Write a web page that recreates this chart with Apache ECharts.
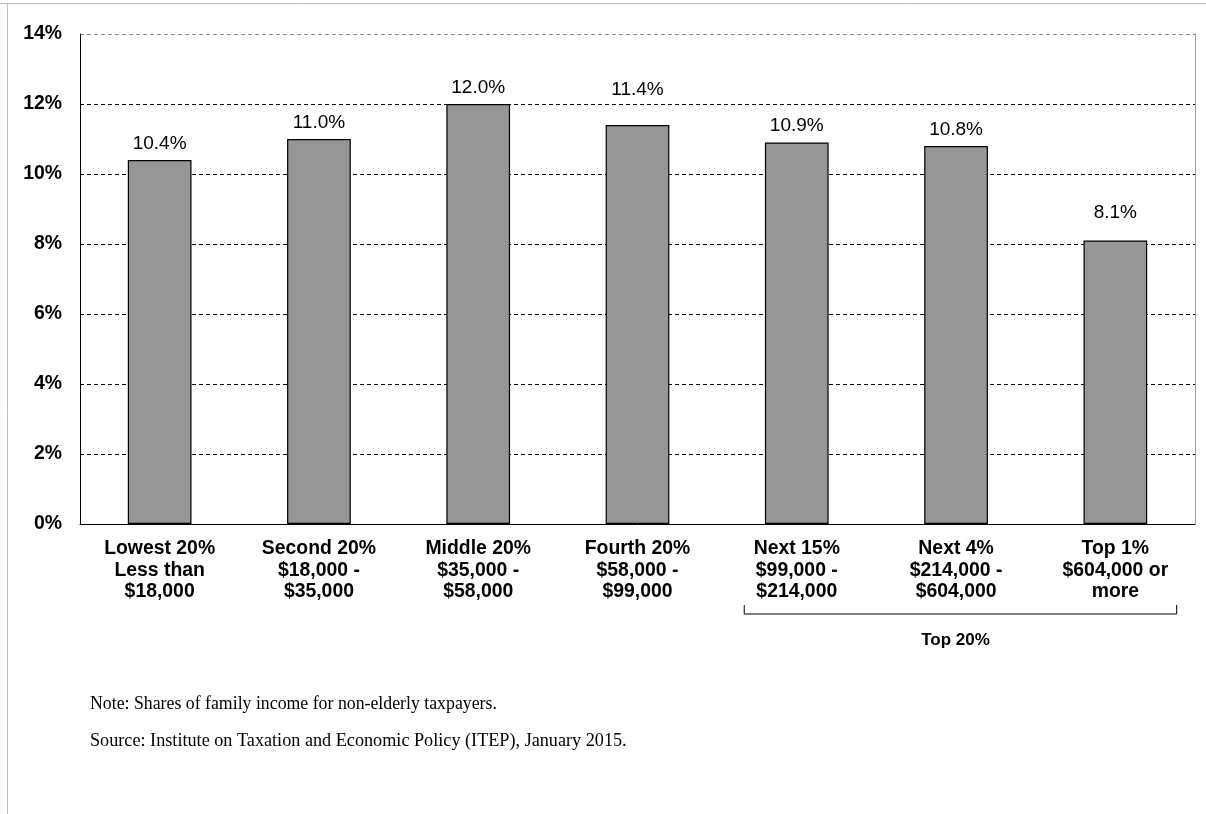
<!DOCTYPE html>
<html>
<head>
<meta charset="utf-8">
<script src="https://cdn.jsdelivr.net/npm/echarts@6/dist/echarts.min.js"></script>
<style>
  html, body { margin: 0; padding: 0; background: #fff; }
  #chart { width: 1206px; height: 814px; }
</style>
</head>
<body>
<div id="chart"></div>
<script>
// Income groups (x-axis) and their effective tax rates
const categories = [
  'Lowest 20%\nLess than\n$18,000',
  'Second 20%\n$18,000 -\n$35,000',
  'Middle 20%\n$35,000 -\n$58,000',
  'Fourth 20%\n$58,000 -\n$99,000',
  'Next 15%\n$99,000 -\n$214,000',
  'Next 4%\n$214,000 -\n$604,000',
  'Top 1%\n$604,000 or\nmore'
];
const rates = [10.4, 11.0, 12.0, 11.4, 10.9, 10.8, 8.1];
const yTicks = [0, 2, 4, 6, 8, 10, 12, 14];
const groupLabel = 'Top 20%';
const noteText = 'Note: Shares of family income for non-elderly taxpayers.';
const sourceText = 'Source: Institute on Taxation and Economic Policy (ITEP), January 2015.';

// Extra upward shift (px) for a few hand-placed value labels
const labelLift = [0, 0, 0, 19, 0, 0, 11];

const SANS = '"Liberation Sans", Arial, sans-serif';
const SERIF = '"Liberation Serif", "Times New Roman", serif';

const chart = echarts.init(document.getElementById('chart'), null, { renderer: 'canvas' });

const gridLineColors = yTicks.map((t, i) => i === yTicks.length - 1 ? '#8a8a8a' : '#000');

chart.setOption({
  animation: false,
  backgroundColor: '#fff',
  grid: { left: 80, right: 11, top: 34, bottom: 290, containLabel: false },
  xAxis: {
    type: 'category',
    data: categories,
    axisLine: { show: true, lineStyle: { color: '#000', width: 1 } },
    axisTick: { show: false },
    axisLabel: {
      interval: 0,
      margin: 14,
      color: '#000',
      fontFamily: SANS,
      fontWeight: 'bold',
      fontSize: 19.4,
      lineHeight: 21.5
    }
  },
  yAxis: [{
    type: 'value',
    min: yTicks[0],
    max: yTicks[yTicks.length - 1],
    interval: 2,
    axisLine: { show: true, lineStyle: { color: '#000', width: 1 } },
    axisTick: { show: false },
    axisLabel: {
      margin: 18,
      color: '#000',
      fontFamily: SANS,
      fontWeight: 'bold',
      fontSize: 19.4,
      formatter: v => v + '%'
    },
    splitLine: { show: true, lineStyle: { color: gridLineColors, type: [4, 3], width: 1 } }
  }, {
    type: 'value',
    position: 'right',
    min: 0, max: 14,
    axisLine: { show: true, lineStyle: { color: '#a0a0a0', width: 1 } },
    axisTick: { show: false },
    axisLabel: { show: false },
    splitLine: { show: false }
  }],
  series: [{
    type: 'bar',
    data: rates.map((v, i) => ({ value: v, label: { offset: [0, -labelLift[i]] } })),
    barWidth: '40%',
    itemStyle: { color: '#969696', borderColor: '#000', borderWidth: 1.2 },
    label: {
      show: true,
      position: 'top',
      distance: 7,
      color: '#000',
      fontFamily: SANS,
      fontSize: 19,
      formatter: p => p.value.toFixed(1) + '%'
    }
  }]
});

// Bracket grouping the top three income groups, plus notes and outer frame
const x4 = chart.convertToPixel({ xAxisIndex: 0 }, 4);
const x6 = chart.convertToPixel({ xAxisIndex: 0 }, 6);
const band = (x6 - x4) / 2;
const bl = x4 - 0.33 * band;
const br = x6 + 0.385 * band;
const by = 614;

chart.setOption({
  graphic: [
    { type: 'polyline', silent: true,
      shape: { points: [[bl, by - 9], [bl, by], [br, by], [br, by - 9]] },
      style: { stroke: '#000', lineWidth: 1, fill: null } },
    { type: 'text', silent: true, x: (bl + br) / 2 - 5, y: 640,
      style: { text: groupLabel, fill: '#000', font: 'bold 17px ' + SANS, align: 'center', verticalAlign: 'middle' } },
    { type: 'text', silent: true, x: 90, y: 704,
      style: { text: noteText, fill: '#000', font: '17.8px ' + SERIF, verticalAlign: 'middle' } },
    { type: 'text', silent: true, x: 90, y: 741,
      style: { text: sourceText, fill: '#000', font: '18.2px ' + SERIF, verticalAlign: 'middle' } },
    { type: 'line', silent: true, shape: { x1: 0, y1: 3.5, x2: 1206, y2: 3.5 },
      style: { stroke: '#bdbdbd', lineWidth: 1 } },
    { type: 'line', silent: true, shape: { x1: 7.5, y1: 3.5, x2: 7.5, y2: 814 },
      style: { stroke: '#bdbdbd', lineWidth: 1 } }
  ]
});
</script>
</body>
</html>
